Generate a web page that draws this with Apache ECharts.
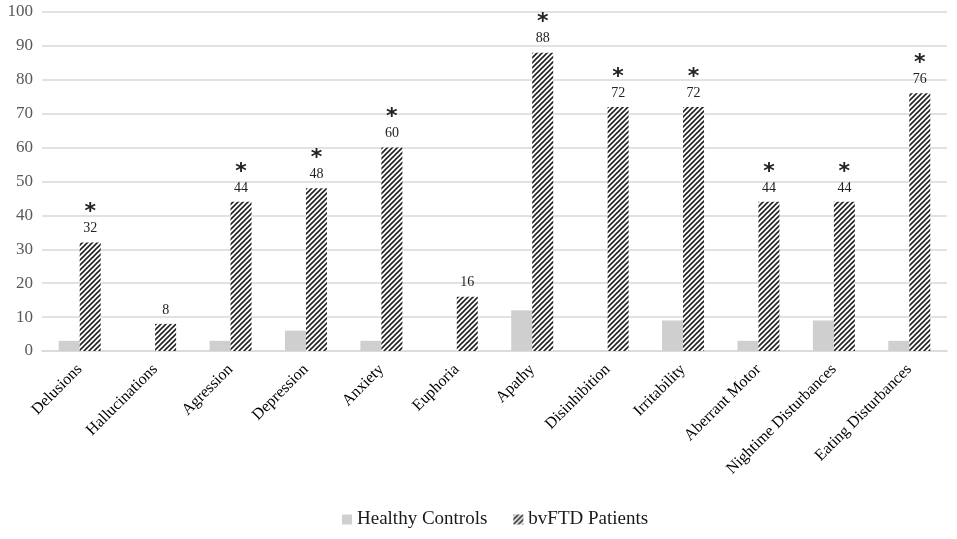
<!DOCTYPE html>
<html>
<head>
<meta charset="utf-8">
<script src="https://cdn.jsdelivr.net/npm/echarts@6/dist/echarts.min.js"></script>
<style>
html, body { margin: 0; padding: 0; background: #fff; }
#main { width: 957px; height: 539px; }
</style>
</head>
<body>
<div id="main"></div>
<script>
/*##########  data  ##########*/
var categories = ['Delusions', 'Hallucinations', 'Agression', 'Depression', 'Anxiety', 'Euphoria',
    'Apathy', 'Disinhibition', 'Irritability', 'Aberrant Motor', 'Nightime Disturbances', 'Eating Disturbances'];
var healthyControls = [3, 0, 3, 6, 3, 0, 12, 0, 9, 3, 9, 3];
var bvftdPatients = [32, 8, 44, 48, 60, 16, 88, 72, 72, 44, 44, 76];
var significant = [true, false, true, true, true, false, true, true, true, true, true, true];
var yTicks = [0, 10, 20, 30, 40, 50, 60, 70, 80, 90, 100];

/*##########  hatch pattern  ##########*/
function makeHatch() {
    var s = 5;
    var c = document.createElement('canvas');
    c.width = s; c.height = s;
    var ctx = c.getContext('2d');
    ctx.fillStyle = '#fff';
    ctx.fillRect(0, 0, s, s);
    ctx.strokeStyle = '#222';
    ctx.lineWidth = 1.6;
    ctx.beginPath();
    ctx.moveTo(0, s); ctx.lineTo(s, 0);
    ctx.moveTo(-1, 1); ctx.lineTo(1, -1);
    ctx.moveTo(s - 1, s + 1); ctx.lineTo(s + 1, s - 1);
    ctx.stroke();
    return c;
}
var hatch = makeHatch();

var dom = document.getElementById('main');
var myChart = echarts.init(dom);

var option = {
    animation: false,
    textStyle: { fontFamily: 'Liberation Serif' },
    grid: { left: 42, right: 10, top: 12, bottom: 188 },
    legend: {
        bottom: 5,
        left: 337,
        itemWidth: 10,
        itemHeight: 10,
        itemGap: 26,
        icon: 'rect',
        textStyle: { fontFamily: 'Liberation Serif', fontSize: 19, color: '#1a1a1a' },
        data: ['Healthy Controls', 'bvFTD Patients']
    },
    xAxis: {
        type: 'category',
        data: categories,
        axisLine: { lineStyle: { color: '#d9d9d9', width: 1.5 } },
        axisTick: { show: false },
        axisLabel: {
            rotate: 45,
            interval: 0,
            margin: 16,
            fontFamily: 'Liberation Serif',
            fontSize: 16,
            color: '#000'
        }
    },
    yAxis: {
        type: 'value',
        min: yTicks[0],
        max: yTicks[yTicks.length - 1],
        interval: 10,
        axisLine: { show: false },
        axisTick: { show: false },
        splitLine: { lineStyle: { color: '#d9d9d9', width: 1.5 } },
        axisLabel: {
            margin: 9,
            fontFamily: 'Liberation Serif',
            fontSize: 17,
            color: '#595959'
        }
    },
    series: [
        {
            name: 'Healthy Controls',
            type: 'bar',
            barWidth: 21,
            barGap: '0%',
            data: healthyControls,
            itemStyle: { color: '#cfcfcf' }
        },
        {
            name: 'bvFTD Patients',
            type: 'bar',
            barWidth: 21,
            barGap: '0%',
            data: bvftdPatients,
            itemStyle: { color: { image: hatch, repeat: 'repeat' } },
            label: {
                show: true,
                position: 'top',
                distance: 6,
                align: 'center',
                formatter: function (p) {
                    var v = '{v|' + p.value + '}';
                    return significant[p.dataIndex] ? '{s|*}\n' + v : v;
                },
                rich: {
                    s: { fontFamily: 'DejaVu Sans', fontSize: 22, fontWeight: 'bold', color: '#222', lineHeight: 16, align: 'center' },
                    v: { fontFamily: 'Liberation Serif', fontSize: 14, color: '#222', lineHeight: 16, align: 'center' }
                }
            }
        }
    ]
};
myChart.setOption(option);
</script>
</body>
</html>
